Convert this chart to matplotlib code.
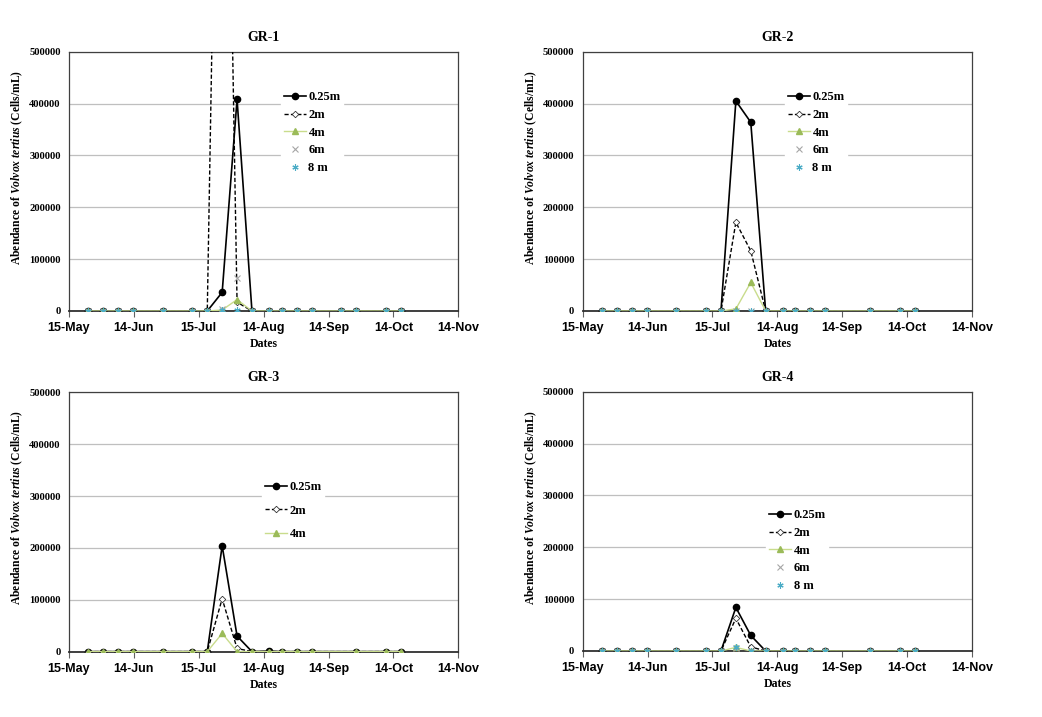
import datetime as dt
import numpy as np
import matplotlib
matplotlib.use("Agg")
import matplotlib.pyplot as plt
import matplotlib.dates as mdates
from matplotlib.ticker import FuncFormatter

plt.rcParams['font.family'] = 'Liberation Serif'
plt.rcParams['font.weight'] = 'bold'
plt.rcParams['xtick.labelsize'] = 9
plt.rcParams['ytick.labelsize'] = 7.6
plt.rcParams['mathtext.fontset'] = 'custom'
plt.rcParams['mathtext.rm'] = 'Liberation Serif:bold'
plt.rcParams['mathtext.it'] = 'Liberation Serif:bold:italic'
plt.rcParams['mathtext.bf'] = 'Liberation Serif:bold'

# fechas de muestreo
fechas_gr1 = ["2013-05-24", "2013-05-31", "2013-06-07", "2013-06-14", "2013-06-28",
              "2013-07-12", "2013-07-19", "2013-07-26", "2013-08-02", "2013-08-09",
              "2013-08-17", "2013-08-23", "2013-08-30", "2013-09-06", "2013-09-20",
              "2013-09-27", "2013-10-11", "2013-10-18"]
fechas_otros = [f for f in fechas_gr1 if f != "2013-09-20"]

# GR-1 (18 fechas)
gr1_025 = [0, 0, 0, 0, 0, 0, 0, 36000, 408000, 0, 0, 0, 0, 0, 0, 0, 0, 0]
gr1_2 = [0, 0, 0, 0, 0, 0, 0, 1650000, 17000, 0, 0, 0, 0, 0, 0, 0, 0, 0]
gr1_4 = [0, 0, 0, 0, 0, 0, 0, 2000, 22000, 0, 0, 0, 0, 0, 0, 0, 0, 0]
gr1_6 = [0, 0, 0, 0, 0, 0, 0, 3000, 64000, 0, 0, 0, 0, 0, 0, 0, 0, 0]
gr1_8 = [0, 0, 0, 0, 0, 0, 0, 1000, 1000, 0, 0, 0, 0, 0, 0, 0, 0, 0]

# GR-2 (17 fechas)
gr2_025 = [0, 0, 0, 0, 0, 0, 0, 405000, 364000, 0, 0, 0, 0, 0, 0, 0, 0]
gr2_2 = [0, 0, 0, 0, 0, 0, 0, 171000, 116000, 0, 0, 0, 0, 0, 0, 0, 0]
gr2_4 = [0, 0, 0, 0, 0, 0, 0, 4000, 55000, 0, 0, 0, 0, 0, 0, 0, 0]
gr2_6 = [0, 0, 0, 0, 0, 0, 0, 0, 0, 0, 0, 0, 0, 0, 0, 0, 0]
gr2_8 = [0, 0, 0, 0, 0, 0, 0, 0, 0, 0, 0, 0, 0, 0, 0, 0, 0]

# GR-3
gr3_025 = [0, 0, 0, 0, 0, 0, 0, 204000, 30000, 0, 1000, 0, 0, 0, 0, 0, 0]
gr3_2 = [0, 0, 0, 0, 0, 0, 0, 102000, 6000, 0, 0, 0, 0, 0, 0, 0, 0]
gr3_4 = [0, 0, 0, 0, 0, 0, 0, 35000, 0, 0, 0, 0, 0, 0, 0, 0, 0]

# GR-4
gr4_025 = [0, 0, 0, 0, 0, 0, 0, 84000, 30000, 0, 0, 0, 0, 0, 0, 0, 0]
gr4_2 = [0, 0, 0, 0, 0, 0, 0, 63000, 8000, 0, 0, 0, 0, 0, 0, 0, 0]
gr4_4 = [0, 0, 0, 0, 0, 0, 0, 7000, 0, 0, 0, 0, 0, 0, 0, 0, 0]
gr4_6 = [0, 0, 0, 0, 0, 0, 0, 5000, 0, 0, 0, 0, 0, 0, 0, 0, 0]
gr4_8 = [0, 0, 0, 0, 0, 0, 0, 8000, 0, 0, 0, 0, 0, 0, 0, 0, 0]

etiquetas_leyenda = ["0.25m", "2m", "4m", "6m", "8 m"]

estilos = [
    dict(color='black', ls='-', lw=1.2, marker='o', ms=4.5, mfc='black', mec='black'),
    dict(color='black', ls=(0, (3, 1.6)), lw=1.0, marker='D', ms=3.3, mfc='white', mec='#333333', mew=0.6),
    dict(color='#c9dc8c', ls='-', lw=1.0, marker='^', ms=4.5, mfc='#9bbb59', mec='#9bbb59'),
    dict(color='white', ls='none', marker='x', ms=4.5, mec='#a6a6a6', mew=0.8),
    dict(color='white', ls='none', marker=(6, 2, 0), ms=4.5, mec='#4bacc6', mew=0.8),
]

paneles = [
    ("GR-1", fechas_gr1, [gr1_025, gr1_2, gr1_4, gr1_6, gr1_8], (69, 51.7), (281, 89), 1.0),
    ("GR-2", fechas_otros, [gr2_025, gr2_2, gr2_4, gr2_6, gr2_8], (582.7, 51.7), (785, 89), 1.0),
    ("GR-3", fechas_otros, [gr3_025, gr3_2, gr3_4], (69, 392.3), (262, 479), 2.0),
    ("GR-4", fechas_otros, [gr4_025, gr4_2, gr4_4, gr4_6, gr4_8], (582.7, 391.7), (766, 507), 1.0),
]

W, H = 1042, 717
fig = plt.figure(figsize=(W / 100, H / 100), dpi=100)

inicio = dt.datetime(2013, 5, 15)
fin = dt.datetime(2013, 11, 14)
ticks_x = mdates.date2num(inicio) + np.arange(7) * 30.5

for titulo, fechas, series, (x0, y0), (lx, ly), espacio in paneles:
    ax = fig.add_axes([x0 / W, 1 - (y0 + 259.3) / H, 389.3 / W, 259.3 / H])
    xs = [dt.datetime.strptime(f, "%Y-%m-%d") for f in fechas]
    for i, valores in enumerate(series):
        ax.plot(xs, valores, label=etiquetas_leyenda[i], clip_on=True, zorder=3 + i, **estilos[i])

    ax.set_xlim(inicio, fin)
    ax.set_ylim(0, 500000)
    ax.set_xticks(ticks_x)
    ax.xaxis.set_major_formatter(mdates.DateFormatter('%d-%b'))
    ax.set_yticks(np.arange(0, 500001, 100000))
    ax.yaxis.set_major_formatter(FuncFormatter(lambda v, p: "%d" % v))
    ax.grid(axis='y', color='#bfbfbf', lw=0.9)
    ax.set_axisbelow(True)
    for s in ax.spines.values():
        s.set_color('#404040')
        s.set_linewidth(0.9)
    ax.spines['bottom'].set_color('#303030')
    ax.spines['bottom'].set_linewidth(1.3)
    ax.tick_params(axis='x', direction='out', length=4, width=0.8, pad=4, color='#606060',
                   labelfontfamily='Liberation Sans')
    ax.tick_params(axis='y', length=0, pad=6)

    ax.set_title(titulo, fontweight='bold', fontsize=10, pad=8)
    ax.set_xlabel("Dates", fontweight='bold', fontsize=8.5, labelpad=3)
    ax.set_ylabel(r"Abendance of $\mathit{Volvox\ tertius}$ (Cells/mL)",
                  fontweight='bold', fontsize=8.4)
    ax.yaxis.set_label_coords(-0.112, 0.555)

    leg = ax.legend(loc='upper left', bbox_to_anchor=(lx / W, 1 - ly / H),
                    bbox_transform=fig.transFigure, frameon=True, fancybox=False,
                    edgecolor='white', facecolor='white', framealpha=1,
                    prop={'weight': 'bold', 'size': 9},
                    handlelength=1.8, handletextpad=0.2, borderpad=0.2,
                    labelspacing=0.45 * espacio, borderaxespad=0)
    leg.set_zorder(20)

fig.savefig("out.png", dpi=100)
